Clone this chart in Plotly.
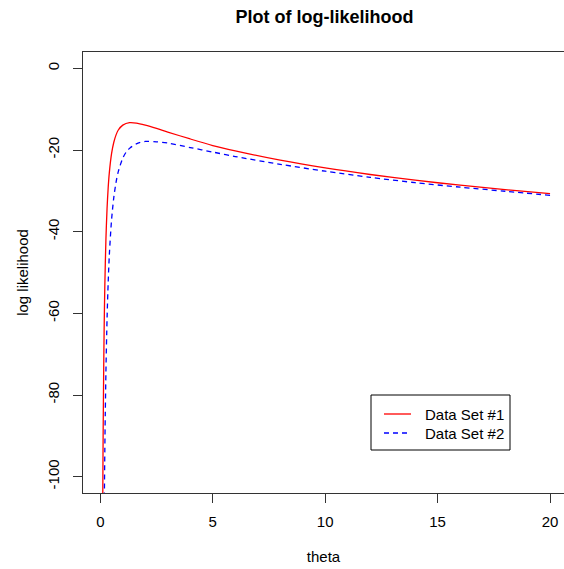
import plotly.graph_objects as go

# Log-likelihood of the two data sets, evaluated over a grid of theta values
theta_1 = [0.10, 0.11, 0.12, 0.13, 0.15, 0.17, 0.20, 0.25, 0.30, 0.35, 0.40, 0.50,
           0.60, 0.70, 0.80, 1.0, 1.3, 1.6, 2.0, 2.5, 3.0, 4.0, 5.0, 6.0, 8.0,
           10.0, 12.0, 14.0, 16.0, 18.0, 20.0]
loglik_1 = [-116.0, -104.3, -94.6, -86.5, -73.7, -64.0, -53.4, -41.7, -34.3, -29.2,
            -25.6, -20.9, -18.1, -16.3, -15.1, -13.9, -13.3, -13.4, -13.9, -14.7,
            -15.6, -17.3, -18.9, -20.2, -22.5, -24.4, -26.0, -27.4, -28.6, -29.7,
            -30.7]

theta_2 = [0.17, 0.18, 0.20, 0.22, 0.25, 0.30, 0.35, 0.40, 0.50, 0.60, 0.70, 0.80,
           1.0, 1.15, 1.3, 1.6, 2.0, 2.5, 3.0, 4.0, 5.0, 6.0, 8.0, 10.0, 12.0,
           14.0, 16.0, 18.0, 20.0]
loglik_2 = [-111.7, -105.1, -93.9, -84.9, -74.1, -61.3, -52.4, -45.8, -37.1, -31.6,
            -27.9, -25.3, -22.0, -20.5, -19.6, -18.5, -17.9, -18.0, -18.3, -19.4,
            -20.5, -21.6, -23.5, -25.2, -26.7, -28.0, -29.1, -30.1, -31.1]

series_names = ["Data Set #1", "Data Set #2"]
series_colors = ["#FF0000", "#0000FF"]
series_dash = ["solid", "5px,4px"]

x_ticks = [0, 5, 10, 15, 20]
y_ticks = [0, -20, -40, -60, -80, -100]

FONT = "Liberation Sans, Arial, sans-serif"
AXIS_COLOR = "#333333"

W, H = 564, 569
M_L, M_R, M_T, M_B = 83, 0, 52, 76
PLOT_W = W - M_L - M_R
PLOT_H = H - M_T - M_B


def px_x(px):
    """Horizontal pixel position -> paper coordinate."""
    return (px - M_L) / PLOT_W


def px_y(py):
    """Vertical pixel position (from top) -> paper coordinate."""
    return (H - M_B - py) / PLOT_H


fig = go.Figure()
for xs, ys, name, color, dash in zip([theta_1, theta_2], [loglik_1, loglik_2],
                                     series_names, series_colors, series_dash):
    fig.add_trace(go.Scatter(
        x=xs, y=ys, mode="lines", name=name, showlegend=False,
        line=dict(color=color, width=1.3, dash=dash, shape="spline", smoothing=0.8),
    ))

# Boxed legend in the lower right of the plotting region
shapes = [dict(
    type="rect", xref="paper", yref="paper",
    x0=px_x(371), x1=px_x(510), y0=px_y(450), y1=px_y(395),
    line=dict(color="black", width=1), fillcolor="white", layer="above",
)]
annotations = []
for i, (name, color, dash) in enumerate(zip(series_names, series_colors, series_dash)):
    row_y = 414 + 19 * i
    shapes.append(dict(
        type="line", xref="paper", yref="paper",
        x0=px_x(384), x1=px_x(411), y0=px_y(row_y), y1=px_y(row_y),
        line=dict(color=color, width=1.3, dash=dash), layer="above",
    ))
    annotations.append(dict(
        text=name, xref="paper", yref="paper", x=px_x(423), y=px_y(row_y),
        xanchor="left", yanchor="middle", showarrow=False,
        font=dict(family=FONT, size=15, color="black"),
    ))

fig.update_layout(
    width=W, height=H,
    margin=dict(l=M_L, r=M_R, t=M_T, b=M_B),
    paper_bgcolor="white", plot_bgcolor="white",
    font=dict(family=FONT, size=15, color="black"),
    title=dict(
        text="<b>Plot of log-likelihood</b>",
        font=dict(family=FONT, size=18, color="black"),
        xref="container", yref="container",
        x=324.5 / W, y=1 - 17 / H, xanchor="center", yanchor="middle",
    ),
    showlegend=False,
    shapes=shapes,
    annotations=annotations,
    xaxis=dict(
        range=[-0.77, 20.62],
        tickvals=x_ticks, ticktext=[str(v) for v in x_ticks],
        ticks="outside", ticklen=9, tickcolor=AXIS_COLOR,
        showline=True, linecolor=AXIS_COLOR, linewidth=1, mirror=True,
        showgrid=False, zeroline=False,
        ticklabelstandoff=6,
        title=dict(text="theta", standoff=22, font=dict(family=FONT, size=15)),
    ),
    yaxis=dict(
        range=[-104, 4],
        tickvals=y_ticks, ticktext=[str(v) for v in y_ticks],
        ticks="outside", ticklen=9, tickcolor=AXIS_COLOR,
        tickangle=-90,
        showline=True, linecolor=AXIS_COLOR, linewidth=1, mirror=False,
        showgrid=False, zeroline=False,
        ticklabelstandoff=8,
        title=dict(text="log likelihood", standoff=12, font=dict(family=FONT, size=15)),
    ),
)

fig.write_html("out.html")
